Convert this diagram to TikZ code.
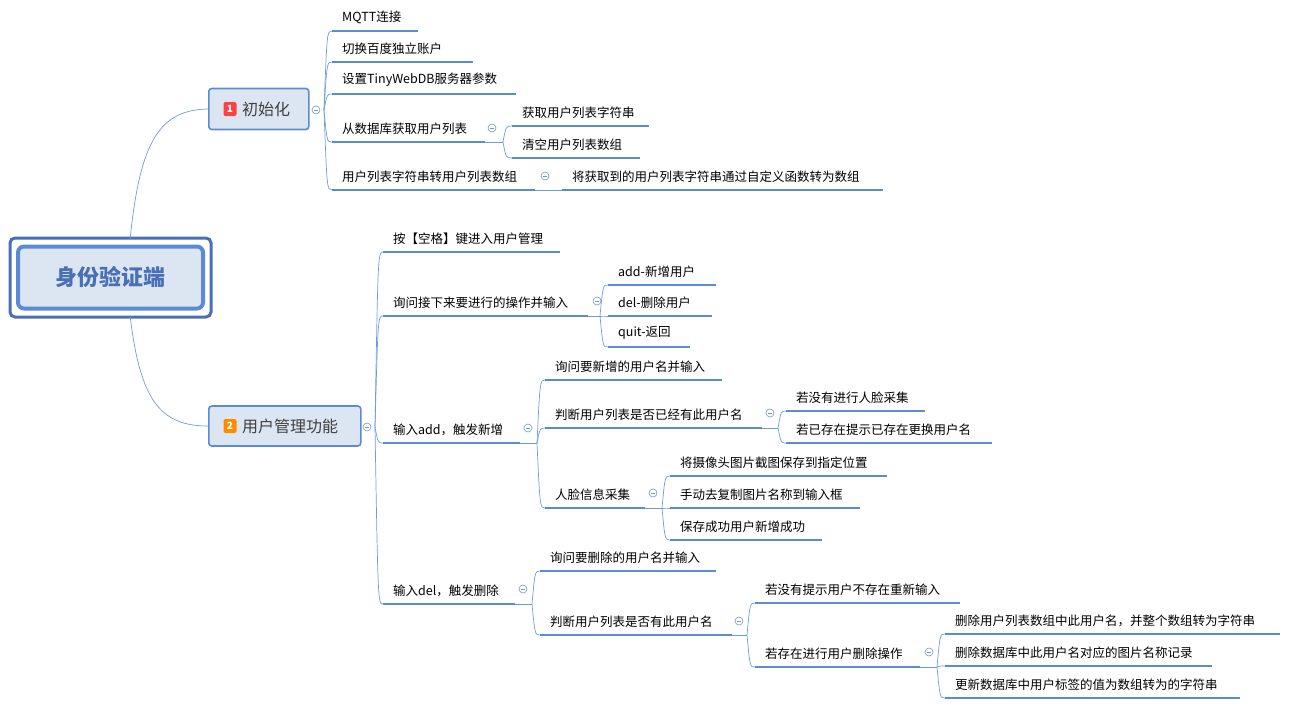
\documentclass[tikz,border=0pt]{standalone}
\usepackage{fontspec}
\setmainfont{Noto Sans CJK SC}
\usetikzlibrary{calc}
\definecolor{lineblue}{HTML}{5B8BD3}
\definecolor{branchblue}{HTML}{6E9CDA}
\definecolor{topicfill}{HTML}{DCE6F3}
\definecolor{darkblue}{HTML}{4A6FB5}
\tikzset{
  leaf text/.style={anchor=south west, inner sep=0pt, font=\fontsize{12.5}{14}\selectfont},
  underline/.style={lineblue, line width=2.2pt},
  branch/.style={branchblue, line width=0.7pt},
  fold/.style={circle, draw=branchblue!80!gray, line width=0.6pt, inner sep=0pt, minimum size=8pt,
    path picture={\draw[branchblue!80!gray, line width=0.6pt] ([xshift=-2pt]path picture bounding box.center) -- ([xshift=2pt]path picture bounding box.center);}},
  topic/.style={draw=lineblue, line width=1.6pt, fill=topicfill, rounded corners=3pt, inner sep=0pt, anchor=west},
  badge/.style={fill=#1, text=white, rounded corners=2pt, inner sep=0pt, minimum width=13pt, minimum height=14pt, font=\fontsize{10}{10}\selectfont\bfseries}
}
% underline with its text; the start point is named
\newcommand\leaf[5]{%
  \draw[underline] (#2,#4) coordinate (#1) -- (#3,#4);
  \node[leaf text] (#1 text) at (#2+10,#4-7) {#5};}
% curved connector from a junction to a child
\newcommand\branchto[2]{\draw[branch] (#1) .. controls ($(#1|-#2)+(3,0)$) .. (#2);}
\begin{document}
\begin{tikzpicture}[x=1pt,y=-1pt]
\useasboundingbox (0,0) rectangle (1298,707);
% central topic
\draw[darkblue, line width=3pt, rounded corners=5pt, fill=white] (10,238) rectangle (211,317);
\node[draw=lineblue, line width=4pt, fill=topicfill, rounded corners=6pt, minimum width=185pt, minimum height=62pt,
  font=\fontsize{22}{24}\selectfont\bfseries, text=darkblue] (root) at (110.5,277.5) {身份验证端};
% main topics
\node[topic, minimum width=100pt, minimum height=41pt] (init) at (208,109) {};
\node[badge=red!75!white] (b1) at (230,109) {1};
\node[anchor=west, inner sep=0pt, font=\fontsize{16}{18}\selectfont, text=black!75] at (242,109) {初始化};
\node[topic, minimum width=152pt, minimum height=40pt] (mgmt) at (208,426) {};
\node[badge=orange!90!yellow] (b2) at (230,426) {2};
\node[anchor=west, inner sep=0pt, font=\fontsize{16}{18}\selectfont, text=black!75] at (242,426) {用户管理功能};
\draw[branch] (130,240) .. controls (140,140) and (160,110) .. (init.west);
\draw[branch] (130,315) .. controls (140,400) and (160,426) .. (mgmt.west);
% 初始化
\node[fold] (f1) at (316,110) {};
\coordinate (j1) at (324,110);
\leaf{a1}{332}{418}{31}{MQTT连接}
\leaf{a2}{332}{473}{62}{切换百度独立账户}
\leaf{a3}{332}{516}{94}{设置TinyWebDB服务器参数}
\leaf{a4}{332}{485}{142}{从数据库获取用户列表}
\leaf{a5}{332}{535}{190}{用户列表字符串转用户列表数组}
\foreach \c in {a1,a2,a3,a4,a5} {\branchto{j1}{\c}}
\node[fold] (f4) at (492,128) {};
\draw[branch] (485,142) -- (503,142) coordinate (j4);
\leaf{a41}{512}{649}{126}{获取用户列表字符串}
\leaf{a42}{512}{640}{158}{清空用户列表数组}
\foreach \c in {a41,a42} {\branchto{j4}{\c}}
\node[fold] (f5) at (545,176) {};
\leaf{a51}{562}{883}{190}{将获取到的用户列表字符串通过自定义函数转为数组}
\draw[branch] (535,190) -- (a51);
% 用户管理功能
\node[fold] (f2) at (367,427) {};
\coordinate (j2) at (375,427);
\leaf{b1}{383}{560}{252}{按【空格】键进入用户管理}
\leaf{b2}{383}{588}{316}{询问接下来要进行的操作并输入}
\leaf{b3}{383}{520}{443}{输入add，触发新增}
\leaf{b4}{383}{515}{604}{输入del，触发删除}
\foreach \c in {b1,b2,b3,b4} {\branchto{j2}{\c}}
\node[fold] (fb2) at (597,301) {};
\draw[branch] (588,316) -- (600,316) coordinate (jb2);
\leaf{b21}{608}{716}{285}{add-新增用户}
\leaf{b22}{608}{712}{316}{del-删除用户}
\leaf{b23}{608}{690}{347}{quit-返回}
\foreach \c in {b21,b22,b23} {\branchto{jb2}{\c}}
\node[fold] (fb3) at (528,428) {};
\draw[branch] (520,443) -- (537,443) coordinate (jb3);
\leaf{b31}{545}{722}{380}{询问要新增的用户名并输入}
\leaf{b32}{545}{762}{428}{判断用户列表是否已经有此用户名}
\leaf{b33}{545}{645}{508}{人脸信息采集}
\foreach \c in {b31,b32,b33} {\branchto{jb3}{\c}}
\node[fold] (fb32) at (770,413) {};
\draw[branch] (762,428) -- (778,428) coordinate (jb32);
\leaf{b321}{786}{925}{411}{若没有进行人脸采集}
\leaf{b322}{786}{992}{443}{若已存在提示已存在更换用户名}
\foreach \c in {b321,b322} {\branchto{jb32}{\c}}
\node[fold] (fb33) at (653,493) {};
\draw[branch] (645,508) -- (662,508) coordinate (jb33);
\leaf{b331}{670}{887}{476}{将摄像头图片截图保存到指定位置}
\leaf{b332}{670}{860}{508}{手动去复制图片名称到输入框}
\leaf{b333}{670}{822}{540}{保存成功用户新增成功}
\foreach \c in {b331,b332,b333} {\branchto{jb33}{\c}}
\node[fold] (fb4) at (523,589) {};
\draw[branch] (515,604) -- (532,604) coordinate (jb4);
\leaf{b41}{540}{716}{571}{询问要删除的用户名并输入}
\leaf{b42}{540}{732}{635}{判断用户列表是否有此用户名}
\foreach \c in {b41,b42} {\branchto{jb4}{\c}}
\node[fold] (fb42) at (739,621) {};
\draw[branch] (732,635) -- (747,635) coordinate (jb42);
\leaf{b421}{755}{960}{603}{若没有提示用户不存在重新输入}
\leaf{b422}{755}{920}{667}{若存在进行用户删除操作}
\foreach \c in {b421,b422} {\branchto{jb42}{\c}}
\node[fold] (fb422) at (929,652) {};
\draw[branch] (920,667) -- (937,667) coordinate (jb422);
\leaf{b4221}{945}{1280}{634}{删除用户列表数组中此用户名，并整个数组转为字符串}
\leaf{b4222}{945}{1212}{666}{删除数据库中此用户名对应的图片名称记录}
\leaf{b4223}{945}{1240}{698}{更新数据库中用户标签的值为数组转为的字符串}
\foreach \c in {b4221,b4222,b4223} {\branchto{jb422}{\c}}
\end{tikzpicture}
\end{document}
